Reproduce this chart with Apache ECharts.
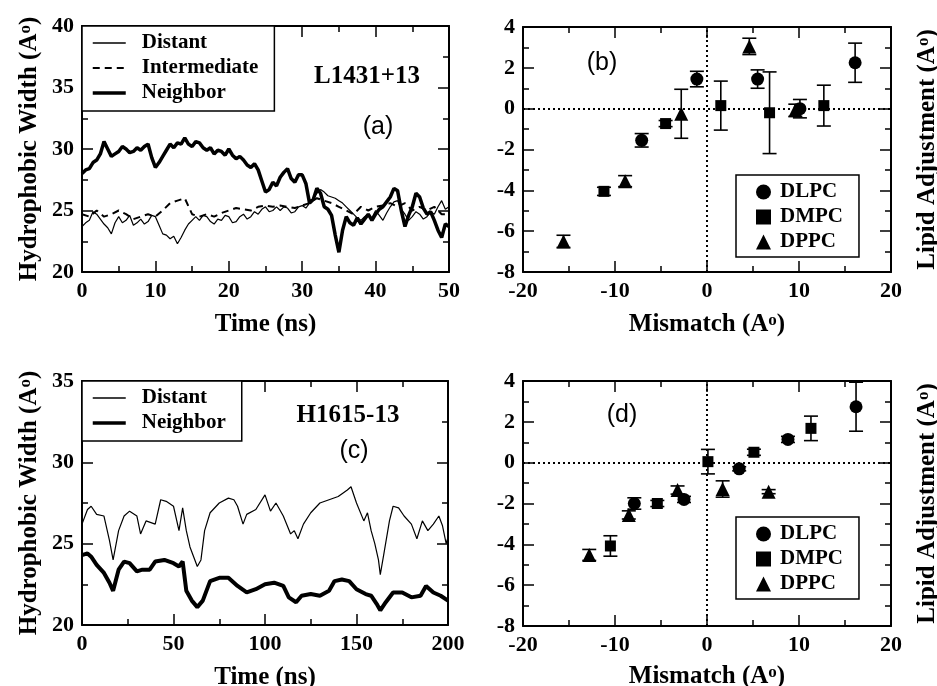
<!DOCTYPE html>
<html>
<head>
<meta charset="utf-8">
<script src="https://cdn.jsdelivr.net/npm/echarts@6/dist/echarts.min.js"></script>
<style>
  body { margin: 0; background: #fff; }
  #chart { width: 937px; height: 686px; }
</style>
</head>
<body>
<div id="chart"></div>
<script>
  // ---- panel (a) L1431+13, hydrophobic width vs time (every 0.5 ns)
  const timeA = [0,0.5,1,1.5,2,2.5,3,3.5,4,4.5,5,5.5,6,6.5,7,7.5,8,8.5,9,9.5,10,10.5,11,11.5,12,12.5,13,13.5,14,14.5,15,15.5,16,16.5,17,17.5,18,18.5,19,19.5,20,20.5,21,21.5,22,22.5,23,23.5,24,24.5,25,25.5,26,26.5,27,27.5,28,28.5,29,29.5,30,30.5,31,31.5,32,32.5,33,33.5,34,34.5,35,35.5,36,36.5,37,37.5,38,38.5,39,39.5,40,40.5,41,41.5,42,42.5,43,43.5,44,44.5,45,45.5,46,46.5,47,47.5,48,48.5,49,49.5,50]
  const distantA = [23.7,24.0,24.2,24.9,24.7,24.3,23.9,23.6,23.1,24.0,24.5,24.0,24.2,24.6,23.8,24.0,24.3,23.9,24.1,24.6,24.5,23.8,23.1,23.0,22.7,22.9,22.3,22.8,23.4,23.9,24.2,24.5,24.2,24.6,24.5,24.1,23.9,24.3,24.2,24.6,24.5,24.0,24.1,24.5,24.7,24.3,24.5,24.9,24.7,25.1,25.3,24.9,25.0,25.3,25.0,25.3,25.2,24.8,24.9,25.3,25.4,25.2,25.6,26.0,26.4,26.7,26.5,26.2,26.1,26.0,25.8,25.6,25.3,25.0,24.7,24.4,24.2,24.5,24.7,24.4,25.0,24.6,24.2,24.8,25.3,25.7,25.8,25.1,24.7,24.2,24.5,24.9,24.7,24.3,24.5,24.9,24.7,25.3,25.8,25.1,25.3]
  const neighborA = [28.0,28.3,28.4,28.9,29.1,29.6,30.6,30.0,29.4,29.6,29.8,30.2,30.0,29.7,29.8,30.1,29.9,30.2,30.4,29.3,28.5,28.9,29.4,29.9,30.4,30.1,30.5,30.4,30.9,30.4,30.2,30.6,30.5,30.1,29.9,30.1,29.6,29.9,29.8,29.5,30.0,29.5,29.2,29.4,29.1,28.7,28.5,28.8,28.3,27.4,26.5,26.7,27.3,27.0,27.7,28.1,28.4,27.6,27.3,27.9,27.9,27.2,25.6,25.9,26.8,26.4,25.3,25.1,24.6,23.0,21.6,23.4,24.5,24.0,23.8,24.4,23.9,24.3,24.7,24.2,24.7,25.1,25.3,25.7,26.1,26.8,26.6,25.0,23.7,24.6,25.3,26.4,26.1,25.2,24.7,24.9,24.2,23.4,22.8,23.9,23.7]
  const timeAi = [0,1,2,3,4,5,6,7,8,9,10,11,12,13,14,15,16,17,18,19,20,21,22,23,24,25,26,27,28,29,30,31,32,33,34,35,36,37,38,39,40,41,42,43,44,45,46,47,48,49,50]
  const intermA = [24.7,24.5,25.0,24.5,24.7,25.0,24.7,24.3,24.5,24.7,24.5,25.0,25.6,25.8,26.0,24.7,24.5,24.7,24.5,24.8,25.0,25.2,25.1,25.0,25.3,25.4,25.3,25.4,25.3,25.2,25.4,25.6,26.0,25.8,25.6,25.3,25.0,24.7,25.3,25.0,25.3,25.4,25.6,25.3,25.6,25.0,25.3,25.0,25.3,24.7,24.7]

  // ---- panel (c) H1615-13
  const timeCd = [0,3,5,8,12,15,17,20,23,26,30,32,35,40,43,46,50,53,55,57,59,61,63,65,67,70,75,80,83,85,88,90,95,100,103,106,110,114,116,118,121,125,130,135,140,145,147,150,154,156,158,160,162,163,165,168,170,173,176,180,183,186,189,192,195,197,199,200]
  const distantC = [26.2,27.1,27.3,26.8,26.7,25.2,24.0,25.8,26.7,27.0,26.7,25.6,26.4,26.2,27.7,27.6,27.3,25.8,27.2,25.8,24.8,24.2,23.6,24.0,25.8,26.9,27.5,27.8,27.7,27.3,26.2,26.8,27.1,28.0,27.0,27.5,26.7,25.6,25.8,25.3,26.2,26.9,27.5,27.7,27.9,28.3,28.5,27.5,26.4,26.9,25.8,25.0,24.0,23.1,24.4,26.4,27.3,27.2,26.7,26.2,25.3,26.4,25.8,26.2,26.7,26.1,25.0,25.4]
  const timeCn = [0,3,5,8,12,15,17,20,23,26,30,33,37,40,45,50,53,55,57,60,63,66,70,75,80,85,90,95,100,105,110,113,117,120,125,130,135,138,142,146,150,155,158,161,163,166,170,175,180,185,188,192,196,200]
  const neighborC = [24.3,24.4,24.2,23.7,23.2,22.6,22.1,23.4,23.9,23.8,23.3,23.4,23.4,23.9,24.0,23.8,23.6,23.9,22.1,21.5,21.1,21.5,22.7,22.9,22.9,22.4,22.0,22.2,22.5,22.6,22.4,21.7,21.4,21.8,21.9,21.8,22.1,22.7,22.8,22.7,22.2,21.9,21.8,21.3,20.9,21.4,22.0,22.0,21.7,21.8,22.4,22.0,21.8,21.5]

  // ---- panel (b): mismatch, adjustment, error
  const bDLPCx = [-7.1,-1.1,5.5,10.1,16.1]
  const bDLPCy = [-1.55,1.45,1.45,0.0,2.25]
  const bDLPCe = [0.33,0.38,0.45,0.45,0.96]
  const bDMPCx = [-11.2,-4.5,1.5,6.8,12.7]
  const bDMPCy = [-4.05,-0.73,0.15,-0.2,0.15]
  const bDMPCe = [0.2,0.15,1.2,2.0,1.0]
  const bDPPCx = [-15.6,-8.9,-2.8,4.6,9.6]
  const bDPPCy = [-6.5,-3.55,-0.25,3.05,-0.08]
  const bDPPCe = [0.3,0.27,1.2,0.4,0.3]

  // ---- panel (d)
  const dDLPCx = [-7.9,-2.5,3.5,8.8,16.2]
  const dDLPCy = [-2.0,-1.8,-0.3,1.14,2.74]
  const dDLPCe = [0.28,0.15,0.1,0.15,1.2]
  const dDMPCx = [-10.5,-5.4,0.1,5.1,11.3]
  const dDMPCy = [-4.08,-2.0,0.05,0.51,1.68]
  const dDMPCe = [0.5,0.15,0.6,0.15,0.6]
  const dDPPCx = [-12.8,-8.5,-3.2,1.7,6.7]
  const dDPPCy = [-4.52,-2.56,-1.34,-1.29,-1.42]
  const dDPPCe = [0.27,0.2,0.2,0.4,0.1]

  const serif = '"Liberation Serif", "Times New Roman", serif'
  const sans = '"Liberation Sans", Arial, sans-serif'

  const zip = (xs, ys) => xs.map((x, i) => [x, ys[i]])
  const zip3 = (xs, ys, es) => xs.map((x, i) => [x, ys[i], es[i]])

  // fixed boxes, no auto-shrinking for labels
  const grids = [
    { left: 82, top: 26, width: 367, height: 246, outerBoundsMode: 'none', containLabel: false },
    { left: 523, top: 27, width: 368, height: 245, outerBoundsMode: 'none', containLabel: false },
    { left: 82, top: 381, width: 366, height: 244, outerBoundsMode: 'none', containLabel: false },
    { left: 523, top: 381, width: 368, height: 245, outerBoundsMode: 'none', containLabel: false }
  ]

  const nameStyle = {
    fontFamily: serif, fontWeight: 'bold', fontSize: 25, color: '#000',
    rich: { s: { fontFamily: serif, fontWeight: 'bold', fontSize: 17, color: '#000', verticalAlign: 'top', lineHeight: 12 } }
  }

  // one axis (bottom/top or left/right); the mirrored one gets no labels
  function axis (gridIndex, pos, min, max, interval, labels, name, nameGap) {
    return {
      type: 'value', gridIndex: gridIndex, position: pos,
      min: min, max: max, interval: interval,
      splitLine: { show: false },
      axisLine: { show: true, onZero: false, lineStyle: { color: '#000', width: 2 } },
      axisTick: { show: true, inside: true, length: 11, lineStyle: { color: '#000', width: 1.5 } },
      minorTick: { show: true, splitNumber: 2, length: 6, lineStyle: { color: '#000', width: 1.5 } },
      axisLabel: {
        show: labels, margin: 8, color: '#000',
        fontFamily: serif, fontWeight: 'bold', fontSize: 22
      },
      name: name || '', nameLocation: 'middle', nameGap: nameGap || 0,
      nameRotate: (pos === 'left' || pos === 'right') ? 90 : 0,
      nameTextStyle: nameStyle
    }
  }

  const widthName = 'Hydrophobic Width (A{s|o})'
  const adjName = 'Lipid Adjustment (A{s|o})'
  const mismName = 'Mismatch (A{s|o})'

  // axis index of panel p: bottom/left = 2p, top/right = 2p+1
  const xAxes = [
    axis(0, 'bottom', 0, 50, 10, true, 'Time (ns)', 40),
    axis(0, 'top', 0, 50, 10, false),
    axis(1, 'bottom', -20, 20, 10, true, mismName, 40),
    axis(1, 'top', -20, 20, 10, false),
    axis(2, 'bottom', 0, 200, 50, true, 'Time (ns)', 40),
    axis(2, 'top', 0, 200, 50, false),
    axis(3, 'bottom', -20, 20, 10, true, mismName, 38),
    axis(3, 'top', -20, 20, 10, false)
  ]
  const yAxes = [
    axis(0, 'left', 20, 40, 5, true, widthName, 40),
    axis(0, 'right', 20, 40, 5, false),
    axis(1, 'left', -8, 4, 2, true),
    axis(1, 'right', -8, 4, 2, false, adjName, 24),
    axis(2, 'left', 20, 35, 5, true, widthName, 40),
    axis(2, 'right', 20, 35, 5, false),
    axis(3, 'left', -8, 4, 2, true),
    axis(3, 'right', -8, 4, 2, false, adjName, 24)
  ]

  function timeLine (name, panel, data, width, type) {
    return {
      name: name, type: 'line', xAxisIndex: panel * 2, yAxisIndex: panel * 2,
      data: data, symbol: 'none', animation: false,
      itemStyle: { color: '#000' },
      lineStyle: { color: '#000', width: width, type: type || 'solid' }
    }
  }

  const dotted = {
    silent: true, symbol: 'none', animation: false,
    label: { show: false },
    lineStyle: { color: '#000', width: 2, type: [2, 3] },
    data: [{ xAxis: 0 }, { yAxis: 0 }]
  }

  function pts (name, panel, symbol, size, data, withZero) {
    const s = {
      name: name, type: 'scatter', xAxisIndex: panel * 2, yAxisIndex: panel * 2,
      symbol: symbol, symbolSize: size, data: data, animation: false,
      itemStyle: { color: '#000', opacity: 1 }, z: 4
    }
    if (withZero) s.markLine = dotted
    return s
  }

  function errBars (panel, data) {
    return {
      name: 'err', type: 'custom', xAxisIndex: panel * 2, yAxisIndex: panel * 2,
      data: data, animation: false, z: 3,
      renderItem: function (params, api) {
        const x = api.value(0), y = api.value(1), e = api.value(2)
        const hi = api.coord([x, y + e])
        const lo = api.coord([x, y - e])
        const st = { stroke: '#000', lineWidth: 1.6 }
        return {
          type: 'group',
          children: [
            { type: 'line', shape: { x1: hi[0], y1: hi[1], x2: lo[0], y2: lo[1] }, style: st },
            { type: 'line', shape: { x1: hi[0] - 7, y1: hi[1], x2: hi[0] + 7, y2: hi[1] }, style: st },
            { type: 'line', shape: { x1: lo[0] - 7, y1: lo[1], x2: lo[0] + 7, y2: lo[1] }, style: st }
          ]
        }
      }
    }
  }

  function legendBox (left, top, items, iw, ih, pad, textPad, isLine) {
    const lg = {
      left: left, top: top, orient: 'vertical', data: items,
      itemWidth: iw, itemHeight: ih, itemGap: 3, padding: pad,
      borderColor: '#000', borderWidth: 1.5, backgroundColor: '#fff',
      selectedMode: false,
      textStyle: { fontFamily: serif, fontWeight: 'bold', fontSize: 21, color: '#000', lineHeight: 22, padding: [0, 0, 0, textPad] }
    }
    if (isLine) lg.itemStyle = { opacity: 0 }
    else lg.itemStyle = { color: '#000', opacity: 1 }
    return lg
  }

  const lineItems = {
    Distant: { name: 'Distant', lineStyle: { width: 1.5, color: '#000' } },
    Intermediate: { name: 'Intermediate', lineStyle: { width: 2, color: '#000', type: [7, 5] } },
    Neighbor: { name: 'Neighbor', lineStyle: { width: 3.5, color: '#000' } }
  }

  function label (x, y, text, font) {
    return {
      type: 'text', x: x, y: y, z: 10,
      style: { text: text, font: font, fill: '#000', textAlign: 'center', textVerticalAlign: 'middle' }
    }
  }

  const option = {
    backgroundColor: '#fff',
    animation: false,
    grid: grids,
    xAxis: xAxes,
    yAxis: yAxes,
    legend: [
      legendBox(82, 26, [lineItems.Distant, lineItems.Intermediate, lineItems.Neighbor], 33, 14, [6, 16, 7, 9], 11, true),
      legendBox(82, 381, [lineItems.Distant, lineItems.Neighbor], 33, 14, [6, 16, 7, 9], 11, true),
      legendBox(736, 175, ['DLPC', 'DMPC', 'DPPC'], 15, 15, [6, 16, 4, 20], 4),
      legendBox(736, 517, ['DLPC', 'DMPC', 'DPPC'], 15, 15, [6, 16, 4, 20], 4)
    ],
    graphic: [
      label(367, 77, 'L1431+13', 'bold 25px ' + serif),
      label(378, 127, '(a)', '25px ' + sans),
      label(602, 63, '(b)', '25px ' + sans),
      label(348, 416, 'H1615-13', 'bold 25px ' + serif),
      label(354, 451, '(c)', '25px ' + sans),
      label(622, 415, '(d)', '25px ' + sans)
    ],
    series: [
      timeLine('Distant', 0, zip(timeA, distantA), 1.2),
      timeLine('Intermediate', 0, zip(timeAi, intermA), 2, [7, 5]),
      timeLine('Neighbor', 0, zip(timeA, neighborA), 3.5),
      timeLine('Distant', 2, zip(timeCd, distantC), 1.2),
      timeLine('Neighbor', 2, zip(timeCn, neighborC), 4),

      errBars(1, zip3(bDLPCx, bDLPCy, bDLPCe)),
      errBars(1, zip3(bDMPCx, bDMPCy, bDMPCe)),
      errBars(1, zip3(bDPPCx, bDPPCy, bDPPCe)),
      pts('DLPC', 1, 'circle', 13, zip(bDLPCx, bDLPCy), true),
      pts('DMPC', 1, 'rect', 11, zip(bDMPCx, bDMPCy)),
      pts('DPPC', 1, 'triangle', 14, zip(bDPPCx, bDPPCy)),

      errBars(3, zip3(dDLPCx, dDLPCy, dDLPCe)),
      errBars(3, zip3(dDMPCx, dDMPCy, dDMPCe)),
      errBars(3, zip3(dDPPCx, dDPPCy, dDPPCe)),
      pts('DLPC', 3, 'circle', 13, zip(dDLPCx, dDLPCy), true),
      pts('DMPC', 3, 'rect', 11, zip(dDMPCx, dDMPCy)),
      pts('DPPC', 3, 'triangle', 14, zip(dDPPCx, dDPPCy))
    ]
  }

  const myChart = echarts.init(document.getElementById('chart'))
  myChart.setOption(option)
</script>
</body>
</html>
